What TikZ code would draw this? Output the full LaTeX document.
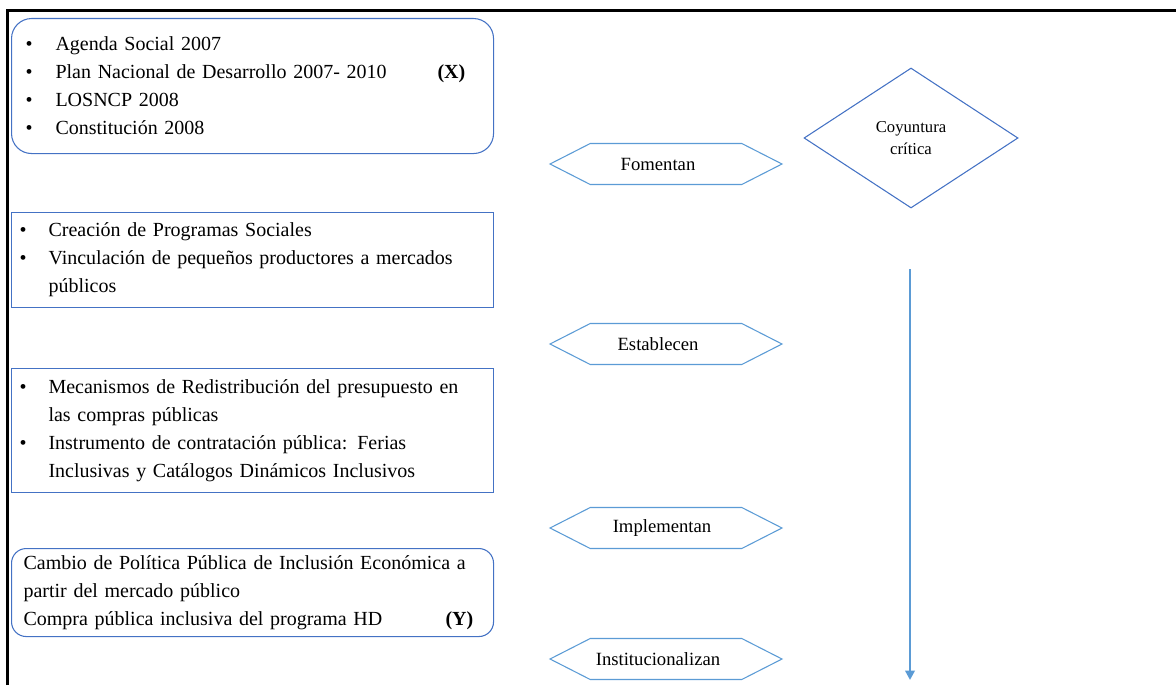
\documentclass[tikz,border=0pt]{standalone}
\usepackage{fontspec}
\setmainfont{Liberation Serif}
\usetikzlibrary{shapes.geometric, shapes.symbols, arrows.meta}

\definecolor{boxblue}{HTML}{4472C4}
\definecolor{lineblue}{HTML}{5B9BD5}

\tikzset{
    listbox/.style={draw=boxblue, line width=0.8pt, anchor=north west, align=left,
        minimum width=361.5pt, font=\fontsize{15}{21}\selectfont},
    verbbox/.style={draw=lineblue, line width=0.8pt, shape=signal, signal to=west and east,
        signal pointer angle=54, minimum width=174pt, minimum height=30.75pt, inner sep=0pt,
        font=\fontsize{14}{16}\selectfont},
}
\newcommand{\bul}[1]{\makebox[#1][l]{\textbullet}}

\begin{document}
\begin{tikzpicture}[x=0.75pt, y=-0.75pt]
    \useasboundingbox (0, 0) rectangle (1176, 685);
    \draw[line width=2.25pt] (7, 685) -- (7, 11) -- (1176, 11);

    % left column
    \node[listbox, rounded corners=15pt, minimum height=101.25pt, text width=340.5pt, inner xsep=10.5pt]
        (norms) at (11, 18) {\bul{22.5pt}Agenda Social 2007\\
        \bul{22.5pt}\makebox[286.5pt][l]{Plan Nacional de Desarrollo 2007- 2010}\textbf{(X)}\\
        \bul{22.5pt}LOSNCP 2008\\
        \bul{22.5pt}Constitución 2008};
    \node[listbox, minimum height=71.25pt, text width=349.5pt, inner xsep=6pt]
        (progs) at (11, 212) {\bul{21.75pt}Creación de Programas Sociales\\
        \bul{21.75pt}Vinculación de pequeños productores a mercados\\
        \hspace*{21.75pt}públicos};
    \node[listbox, minimum height=93pt, text width=349.5pt, inner xsep=6pt]
        (mecs) at (11, 368) {\bul{21.75pt}Mecanismos de Redistribución del presupuesto en\\
        \hspace*{21.75pt}las compras públicas\\
        \bul{21.75pt}Instrumento de contratación pública: Ferias\\
        \hspace*{21.75pt}Inclusivas y Catálogos Dinámicos Inclusivos};
    \node[listbox, rounded corners=11pt, minimum height=66pt, text width=343.5pt, inner xsep=9pt]
        (change) at (11, 548) {Cambio de Política Pública de Inclusión Económica a\\
        partir del mercado público\\
        \makebox[316.5pt][l]{Compra pública inclusiva del programa HD}\textbf{(Y)}};

    % verbs
    \node[verbbox] (fom) at (666, 164) {Fomentan\hspace*{12pt}};
    \node[verbbox] (est) at (666, 344) {Establecen\hspace*{12pt}};
    \node[verbbox] (imp) at (666, 528) {Implementan\hspace*{6pt}};
    \node[verbbox] (inst) at (666, 659) {Institucionalizan\hspace*{12pt}};

    % critical juncture
    \node[draw=boxblue, line width=0.8pt, diamond, aspect=1.53, minimum width=160.5pt,
        minimum height=105pt, inner sep=0pt, align=center, font=\fontsize{12.5}{17}\selectfont]
        (coy) at (911, 138) {Coyuntura\\crítica};
    \coordinate (start) at (910, 269);
    \coordinate (end) at (910, 680);
    \draw[lineblue, line width=2pt, -{Triangle[length=7pt, width=7pt]}] (start) -- (end);
\end{tikzpicture}
\end{document}
